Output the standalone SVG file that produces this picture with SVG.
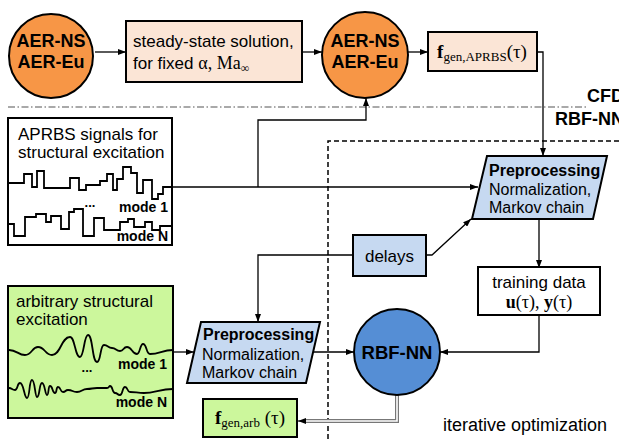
<svg xmlns="http://www.w3.org/2000/svg" width="619" height="439" viewBox="0 0 619 439">
  <defs>
    <marker id="arrow" markerWidth="8" markerHeight="6" refX="8" refY="3" orient="auto" markerUnits="userSpaceOnUse">
      <path d="M0,0 L8,3 L0,6 z" fill="#000"/>
    </marker>
    <style>
      .sans { font-family: "Liberation Sans", Arial, sans-serif; fill: #000; }
      .bold { font-weight: bold; }
      .math { font-family: "Liberation Serif", "DejaVu Serif", serif; fill: #000; }
      .box { stroke: #000; stroke-width: 2; }
      .conn { fill: none; stroke: #000; stroke-width: 1.3; }
      .peach { fill: #fbe5d6; }
      .orange { fill: #f79646; }
      .lblue { fill: #c6d9f1; }
      .green { fill: #ccf79c; }
      .wave { fill: none; stroke: #000; stroke-width: 1.8; stroke-linejoin: miter; }
    </style>
  </defs>
  <rect width="619" height="439" fill="#fff"/>

  <!-- region separators -->
  <g id="separators">
    <line x1="8" y1="107" x2="587" y2="107" stroke="#555" stroke-width="1.2" stroke-dasharray="7,2.5,1.5,2.5"/>
    <polyline points="328,439 328,141 619,141" fill="none" stroke="#000" stroke-width="1.5" stroke-dasharray="5,3"/>
    <text class="sans bold" x="587" y="102" font-size="18">CFD</text>
    <text class="sans bold" x="555" y="125" font-size="18">RBF-NN</text>
  </g>

  <!-- connectors -->
  <g id="connectors">
    <line class="conn" x1="95" y1="52" x2="126" y2="52" marker-end="url(#arrow)"/>
    <line class="conn" x1="302" y1="52" x2="322" y2="52" marker-end="url(#arrow)"/>
    <line class="conn" x1="408" y1="52" x2="428" y2="52" marker-end="url(#arrow)"/>
    <polyline class="conn" points="537,52 543,52 543,156" marker-end="url(#arrow)"/>
    <line class="conn" x1="172" y1="187" x2="478" y2="187" marker-end="url(#arrow)"/>
    <polyline class="conn" points="258,187 258,120 366,120 366,98" marker-end="url(#arrow)"/>
    <polyline class="conn" points="426,255 432,255 471,219" marker-end="url(#arrow)"/>
    <polyline class="conn" points="353,255 258,255 258,322" marker-end="url(#arrow)"/>
    <line class="conn" x1="539" y1="219" x2="539" y2="268" marker-end="url(#arrow)"/>
    <polyline class="conn" points="539,315 539,352 440,352" marker-end="url(#arrow)"/>
    <line class="conn" x1="173" y1="352" x2="194" y2="352" marker-end="url(#arrow)"/>
    <line class="conn" x1="313" y1="352" x2="354" y2="352" marker-end="url(#arrow)"/>
    <!-- double output line of the network -->
    <polyline points="397,395 397,421 304,421" fill="none" stroke="#777" stroke-width="4"/>
    <polyline points="397,395 397,421 304,421" fill="none" stroke="#fff" stroke-width="1.6"/>
    <line x1="304" y1="421" x2="298" y2="421" stroke="#000" stroke-width="1" marker-end="url(#arrow)"/>
  </g>

  <!-- CFD solver (initial) -->
  <g id="cfd-initial">
    <circle class="orange box" cx="51" cy="56" r="42"/>
    <text class="sans bold" x="51" y="47" font-size="18" text-anchor="middle">AER-NS</text>
    <text class="sans bold" x="51" y="68" font-size="18" text-anchor="middle">AER-Eu</text>
  </g>

  <g id="steady-state">
    <rect class="peach box" x="126" y="21" width="176" height="61"/>
    <text class="sans" x="133" y="47" font-size="17">steady-state solution,</text>
    <text class="sans" x="133" y="69" font-size="17">for fixed <tspan class="math" font-size="18">α, Ma</tspan><tspan class="math" font-size="12" dy="3">∞</tspan></text>
  </g>

  <g id="cfd-forced">
    <circle class="orange box" cx="365" cy="55" r="43"/>
    <text class="sans bold" x="365" y="47" font-size="18" text-anchor="middle">AER-NS</text>
    <text class="sans bold" x="365" y="68" font-size="18" text-anchor="middle">AER-Eu</text>
  </g>

  <g id="fgen-aprbs">
    <rect class="peach box" x="428" y="32" width="109" height="39"/>
    <text class="math" x="482" y="58" font-size="19" text-anchor="middle"><tspan font-weight="bold">f</tspan><tspan font-size="13" dy="3">gen,APRBS</tspan><tspan dy="-3">(τ)</tspan></text>
  </g>

  <!-- APRBS excitation signals -->
  <g id="aprbs-signals">
    <rect fill="#fff" class="box" x="8" y="118" width="164" height="127"/>
    <text class="sans" x="18" y="140" font-size="17">APRBS signals for</text>
    <text class="sans" x="18" y="158" font-size="17">structural excitation</text>
    <path class="wave" d="M9,183 H24 V174 H32 V187 H37 V171 H44 V188 H70 V178 H79 V190 H86 V185 H100 V181 H107 V174 H113 V190 H117 V179 H123 V167 H131 V173 H137 V193 H143 V180 H152 V199 H158 V194 H163 V187 H172"/>
    <path class="wave" d="M9,224 H14 V236 H25 V217 H36 V214 H46 V222 H51 V216 H61 V229 H69 V212 H74 V209 H83 V236 H94 V218 H104 V230 H120 V222 H128 V219 H134 V227 H145 V222 H152 V230 H160 V226 H172"/>
    <text class="sans bold" x="90" y="207" font-size="13" text-anchor="middle">...</text>
    <text class="sans bold" x="168" y="212" font-size="14" text-anchor="end">mode 1</text>
    <text class="sans bold" x="168" y="241" font-size="14" text-anchor="end">mode N</text>
  </g>

  <g id="preprocessing-train">
    <polygon class="lblue box" points="487,156 607,156 593,219 472,219"/>
    <text class="sans bold" x="489" y="176" font-size="16">Preprocessing</text>
    <text class="sans" x="489" y="195" font-size="16">Normalization,</text>
    <text class="sans" x="489" y="213" font-size="16">Markov chain</text>
  </g>

  <g id="delays">
    <rect class="lblue box" x="353" y="235" width="73" height="41"/>
    <text class="sans" x="389.5" y="262" font-size="17" text-anchor="middle">delays</text>
  </g>

  <g id="training-data">
    <rect fill="#fff" class="box" x="478" y="267" width="122" height="48"/>
    <text class="sans" x="539" y="288" font-size="17" text-anchor="middle">training data</text>
    <text class="math" x="539" y="308" font-size="18" text-anchor="middle"><tspan font-weight="bold">u</tspan>(τ), <tspan font-weight="bold">y</tspan>(τ)</text>
  </g>

  <!-- arbitrary excitation signals -->
  <g id="arbitrary-signals">
    <rect class="green box" x="8" y="286" width="165" height="132"/>
    <text class="sans" x="16" y="307" font-size="17">arbitrary structural</text>
    <text class="sans" x="16" y="325" font-size="17">excitation</text>
    <path class="wave" d="M9,350 C17,350 18,355 25,355 C32,355 32,347 38,347 C45,347 45,355 52,355 C61,355 61,337 70,337 C75,337 75,357 80,357 C84,357 84,335 88,335 C93,335 92,362 97,362 C101,362 100,345 104,345 C108,345 108,348 112,348 C116,348 116,351 120,351 C124,351 123,347 127,347 C132,347 132,354 137,354 C140,354 140,344 143,344 C147,344 146,354 150,354 C160,354 162,350 173,350"/>
    <path class="wave" d="M9,388 C12,388 12,390 15,390 C18,390 17,383 20,383 C24,383 24,398 27,398 C30,398 29,380 32,380 C35,380 35,397 37,397 C40,397 39,383 42,383 C45,383 45,395 47,395 C49,395 48,386 50,386 C53,386 52,393 55,393 C57,393 56,387 58,387 C61,387 60,392 63,392 C66,392 65,390 68,390 C73,390 72,392 77,392 C82,392 82,389 87,389 C92,389 92,388 97,388 C102,388 104,388 107,388 C109,388 109,386 110,386 C113,386 112,393 115,393 C118,393 117,395 120,395 C123,395 122,387 125,387 C128,387 127,392 130,392 C135,392 138,393 144,393 C155,393 160,389 173,389"/>
    <text class="sans bold" x="87" y="372" font-size="13" text-anchor="middle">...</text>
    <text class="sans bold" x="167" y="369" font-size="14" text-anchor="end">mode 1</text>
    <text class="sans bold" x="167" y="407" font-size="14" text-anchor="end">mode N</text>
  </g>

  <g id="preprocessing-arb">
    <polygon class="lblue box" points="201,322 320,322 306,383 187,383"/>
    <text class="sans bold" x="203" y="340" font-size="16">Preprocessing</text>
    <text class="sans" x="202" y="360" font-size="16">Normalization,</text>
    <text class="sans" x="202" y="378" font-size="16">Markov chain</text>
  </g>

  <g id="rbf-nn">
    <circle fill="#558ed5" class="box" cx="397" cy="352" r="43"/>
    <text class="sans bold" x="397" y="359" font-size="18.5" text-anchor="middle">RBF-NN</text>
  </g>

  <g id="fgen-arb">
    <rect class="green box" x="203" y="399" width="94" height="38"/>
    <text class="math" x="250" y="424" font-size="19" text-anchor="middle"><tspan font-weight="bold">f</tspan><tspan font-size="13" dy="3">gen,arb</tspan><tspan dy="-3"> (τ)</tspan></text>
  </g>

  <text id="iterative-label" class="sans" x="443" y="431" font-size="18">iterative optimization</text>
</svg>
